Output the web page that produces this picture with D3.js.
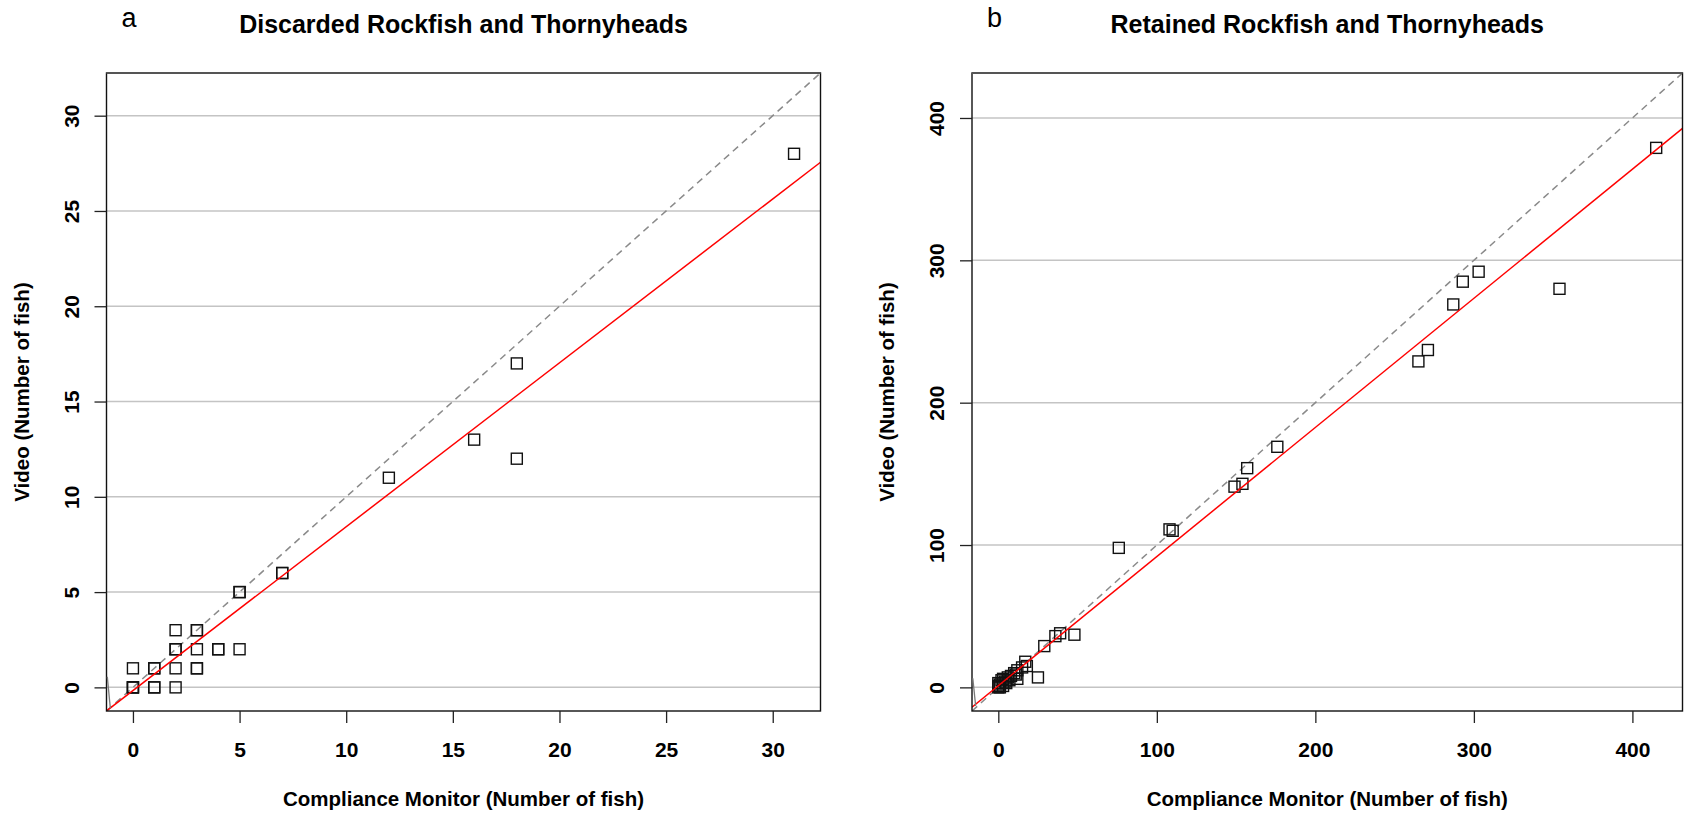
<!DOCTYPE html>
<html>
<head>
<meta charset="utf-8">
<script src="https://cdn.jsdelivr.net/npm/d3@7"></script>
<style>
  html, body { margin: 0; padding: 0; background: #fff; }
  svg { display: block; }
  text { font-family: "Liberation Sans", Arial, Helvetica, sans-serif; }
</style>
</head>
<body>
<svg id="chart" width="1684" height="815"></svg>
<script>
// ---- Data ----
const discardedMonitor = [0,0,0,0,1,1,1,1,2,2,2,2,2,3,3,3,3,3,4,4,5,5,5,7,7,12,16,18,18,31];
const discardedVideo   = [0,0,0,1,1,1,0,0,0,1,2,2,3,3,3,2,1,1,2,2,2,5,5,6,6,11,13,17,12,28];
const discardedTicks = [0,5,10,15,20,25,30];
const discardedRange = [0,31];
const discardedFit = [-0.17, 0.86];          // intercept, slope (red line)
const discardedStubX = [-1.24, -1.06];       // short grey segment at lower-left
const discardedStubY = [0.56, -1.1];

const retainedMonitor = [0,0,1,0,1,2,3,3,4,5,6,7,8,10,11,12,12,15,17,18,25,29,36,39,48,76,108,110,149,154,157,176,265,271,287,293,303,354,415];
const retainedVideo   = [0,1,0,3,2,5,1,6,4,3,7,5,8,10,9,6,12,14,18,15,7,29,36,38,37,98,111,110,141,143,154,169,229,237,269,285,292,280,379];
const retainedTicks = [0,100,200,300,400];
const retainedRange = [0,415];
const retainedFit = [1.2, 0.907];
const retainedStubX = [-16.6, -14.3];
const retainedStubY = [6.4, -13];

const panels = [
  { letter: "a", title: "Discarded Rockfish and Thornyheads", xs: discardedMonitor, ys: discardedVideo,
    ticks: discardedTicks, range: discardedRange, fit: discardedFit, stubX: discardedStubX, stubY: discardedStubY,
    left: 106.5, right: 820.5 },
  { letter: "b", title: "Retained Rockfish and Thornyheads", xs: retainedMonitor, ys: retainedVideo,
    ticks: retainedTicks, range: retainedRange, fit: retainedFit, stubX: retainedStubX, stubY: retainedStubY,
    left: 972, right: 1682.5 }
];

const plotTop = 73, plotBottom = 711;
const svg = d3.select("#chart");

panels.forEach((p, i) => {
  const span = p.range[1] - p.range[0];
  const dom = [p.range[0] - 0.04 * span, p.range[1] + 0.04 * span];
  const x = d3.scaleLinear().domain(dom).range([p.left, p.right]);
  const y = d3.scaleLinear().domain(dom).range([plotBottom, plotTop]);
  const g = svg.append("g");
  const clipId = "clip" + i;
  svg.append("clipPath").attr("id", clipId).append("rect")
    .attr("x", p.left).attr("y", plotTop).attr("width", p.right - p.left).attr("height", plotBottom - plotTop);

  // grid lines
  g.selectAll(".grid").data(p.ticks).enter().append("line")
    .attr("x1", p.left).attr("x2", p.right)
    .attr("y1", d => y(d)).attr("y2", d => y(d))
    .attr("stroke", "#c4c4c4").attr("stroke-width", 1.5);

  const plot = g.append("g").attr("clip-path", `url(#${clipId})`);

  // 1:1 dashed line
  plot.append("line")
    .attr("x1", x(dom[0])).attr("y1", y(dom[0]))
    .attr("x2", x(dom[1])).attr("y2", y(dom[1]))
    .attr("stroke", "#8a8a8a").attr("stroke-width", 1.5).attr("stroke-dasharray", "7,5");

  // points (open squares)
  const s = 11;
  plot.selectAll(".pt").data(p.xs.map((v, k) => [v, p.ys[k]])).enter().append("rect")
    .attr("x", d => x(d[0]) - s / 2).attr("y", d => y(d[1]) - s / 2)
    .attr("width", s).attr("height", s)
    .attr("fill", "none").attr("stroke", "#111").attr("stroke-width", 1.4);

  // regression line
  plot.append("line")
    .attr("x1", x(dom[0])).attr("y1", y(p.fit[0] + p.fit[1] * dom[0]))
    .attr("x2", x(dom[1])).attr("y2", y(p.fit[0] + p.fit[1] * dom[1]))
    .attr("stroke", "#ff0000").attr("stroke-width", 1.5);

  // box
  g.append("rect").attr("x", p.left).attr("y", plotTop)
    .attr("width", p.right - p.left).attr("height", plotBottom - plotTop)
    .attr("fill", "none").attr("stroke", "#111").attr("stroke-width", 1.4);
  g.append("line").attr("x1", p.left).attr("x2", p.right).attr("y1", plotTop).attr("y2", plotTop)
    .attr("stroke", "#555").attr("stroke-width", 2.2);

  // short grey segment at the lower-left corner
  g.append("line")
    .attr("x1", x(p.stubX[0]) + 0.8).attr("y1", y(p.stubY[0]))
    .attr("x2", x(p.stubX[1])).attr("y2", y(p.stubY[1]))
    .attr("stroke", "#7a7a7a").attr("stroke-width", 1.3);

  // axes
  const yAxis = d3.axisLeft(y).tickValues(p.ticks).tickSize(12).tickSizeOuter(0).tickFormat(d3.format("d"));
  const ya = g.append("g").attr("transform", `translate(${p.left},0)`).call(yAxis);
  ya.select(".domain").remove();
  ya.selectAll(".tick line").attr("stroke", "#222").attr("stroke-width", 1.3);
  ya.selectAll(".tick text")
    .attr("x", 0).attr("dy", null).attr("y", -28)
    .attr("transform", "rotate(-90)")
    .attr("text-anchor", "middle")
    .attr("font-size", 21).attr("font-weight", "bold").attr("fill", "#000")
    .attr("font-family", "Liberation Sans, Arial, sans-serif");

  const xAxis = d3.axisBottom(x).tickValues(p.ticks).tickSize(12).tickSizeOuter(0).tickFormat(d3.format("d"));
  const xa = g.append("g").attr("transform", `translate(0,${plotBottom})`).call(xAxis);
  xa.select(".domain").remove();
  xa.selectAll(".tick line").attr("stroke", "#222").attr("stroke-width", 1.3);
  xa.selectAll(".tick text")
    .attr("y", 46).attr("dy", null)
    .attr("font-size", 21).attr("font-weight", "bold").attr("fill", "#000")
    .attr("font-family", "Liberation Sans, Arial, sans-serif");

  const cx = (p.left + p.right) / 2;
  // axis titles
  g.append("text").attr("x", cx).attr("y", 806).attr("text-anchor", "middle")
    .attr("font-size", 20.5).attr("font-weight", "bold").text("Compliance Monitor (Number of fish)");
  const yTitleX = p.left - 78;
  g.append("text").attr("transform", `translate(${yTitleX},${(plotTop + plotBottom) / 2}) rotate(-90)`)
    .attr("text-anchor", "middle")
    .attr("font-size", 20.5).attr("font-weight", "bold").text("Video (Number of fish)");

  // panel title and letter
  g.append("text").attr("x", cx).attr("y", 33).attr("text-anchor", "middle")
    .attr("font-size", 25).attr("font-weight", "bold").text(p.title);
  g.append("text").attr("x", p.left + 15).attr("y", 27)
    .attr("font-size", 27).attr("font-family", "Liberation Sans Narrow, Liberation Sans, Arial, sans-serif")
    .text(p.letter);
});
</script>
</body>
</html>
